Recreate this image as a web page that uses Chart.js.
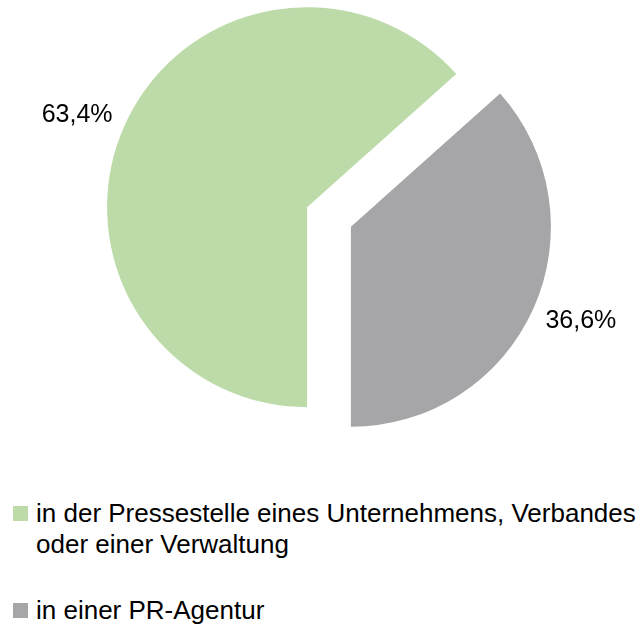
<!DOCTYPE html>
<html>
<head>
<meta charset="utf-8">
<script src="https://cdn.jsdelivr.net/npm/chart.js@4/dist/chart.umd.min.js"></script>
<style>
  html, body { margin: 0; padding: 0; background: #fff; }
  #wrap { position: relative; width: 640px; height: 628px; }
  #pie { position: absolute; left: 0; top: 0; }
  .legend-item { position: absolute; left: 0; font: 26px "Liberation Sans", Arial, sans-serif; line-height: 31px; color: #000; }
  .legend-item .box { position: absolute; left: 13px; top: 8px; width: 15px; height: 15px; }
  .legend-item .txt { position: absolute; left: 36px; top: 0; width: 620px; }
</style>
</head>
<body>
<div id="wrap">
  <canvas id="pie" width="640" height="460"></canvas>
  <div class="legend-item" id="leg0" style="top:498px"><span class="box"></span><span class="txt"></span></div>
  <div class="legend-item" id="leg1" style="top:595px"><span class="box"></span><span class="txt"></span></div>
</div>
<script>
// ── Data ──────────────────────────────────────────────────────────────────
const categories = [
    'in der Pressestelle eines Unternehmens, Verbandes<br>oder einer Verwaltung',
    'in einer PR-Agentur',
];
const shares = [63.4, 36.6];
const valueLabels = ['63,4%', '36,6%'];
const colors = ['#bddba9', '#a6a6a8'];

const EXPLODE = 24;

// ── HTML legend ───────────────────────────────────────────────────────────
categories.forEach((c, i) => {
    const el = document.getElementById('leg' + i);
    el.querySelector('.box').style.background = colors[i];
    el.querySelector('.txt').innerHTML = c;
});

// ── Exploded slices: push every arc out along its bisector ────────────────
// (Chart.js' own `offset` also grows the radius of small slices)
const explode = {
    id: 'explode',
    afterUpdate(chart) {
        chart.getDatasetMeta(0).data.forEach((arc) => {
            const mid = (arc.startAngle + arc.endAngle) / 2;
            arc.x += Math.cos(mid) * EXPLODE;
            arc.y += Math.sin(mid) * EXPLODE;
        });
    },
};

// ── Outside percentage labels ─────────────────────────────────────────────
const outsideLabels = {
    id: 'outsideLabels',
    afterDatasetsDraw(chart) {
        const ctx = chart.ctx;
        const meta = chart.getDatasetMeta(0);
        ctx.save();
        ctx.font = '25px "Liberation Sans", Arial, sans-serif';
        ctx.fillStyle = '#000';
        ctx.textAlign = 'center';
        ctx.textBaseline = 'middle';
        meta.data.forEach((arc, i) => {
            const mid = (arc.startAngle + arc.endAngle) / 2;
            // label boxes are wide, so they sit further out horizontally
            const lx = arc.x + Math.cos(mid) * (arc.outerRadius + 52);
            const ly = arc.y + Math.sin(mid) * (arc.outerRadius + 28) + 1.5;
            ctx.fillText(valueLabels[i], lx, ly);
        });
        ctx.restore();
    },
};

new Chart(document.getElementById('pie'), {
    type: 'pie',
    data: {
        labels: categories,
        datasets: [
            {
                data: shares,
                backgroundColor: colors,
                borderWidth: 0,
                clip: false,
            },
        ],
    },
    options: {
        responsive: false,
        animation: false,
        events: [],
        rotation: 180,
        radius: 200,
        layout: { padding: { left: 18, right: 0, top: 0, bottom: 26 } },
        plugins: {
            legend: { display: false },
            tooltip: { enabled: false },
        },
    },
    plugins: [explode, outsideLabels],
});
</script>
</body>
</html>
